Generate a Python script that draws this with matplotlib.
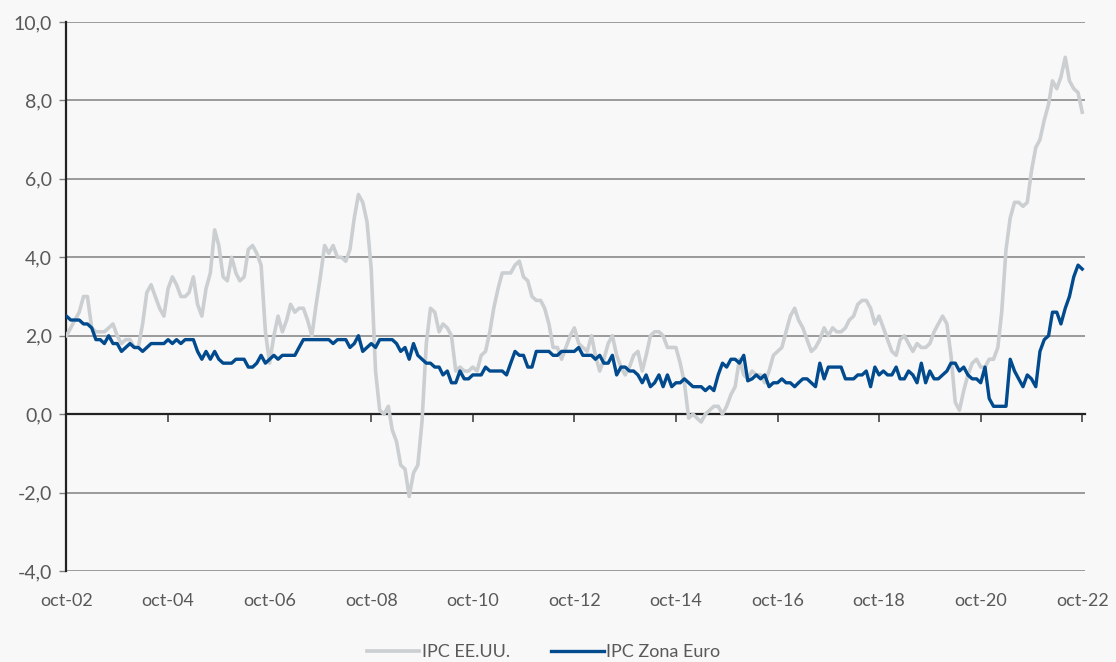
import numpy as np
import pandas as pd
import matplotlib
matplotlib.use("Agg")
import matplotlib.pyplot as plt
from matplotlib.ticker import FuncFormatter, MultipleLocator

plt.rcParams['font.family'] = ['Lato', 'DejaVu Sans']

# monthly values, oct-02 .. oct-22
dates = pd.date_range('2002-10-01', '2022-10-01', freq='MS')

ipc_usa = [
    2.0, 2.2, 2.4,
    2.6, 3.0, 3.0, 2.2, 2.1, 2.1, 2.1, 2.2, 2.3, 2.0, 1.8, 1.9,
    1.9, 1.7, 1.7, 2.3, 3.1, 3.3, 3.0, 2.7, 2.5, 3.2, 3.5, 3.3,
    3.0, 3.0, 3.1, 3.5, 2.8, 2.5, 3.2, 3.6, 4.7, 4.3, 3.5, 3.4,
    4.0, 3.6, 3.4, 3.5, 4.2, 4.3, 4.1, 3.8, 2.1, 1.3, 2.0, 2.5,
    2.1, 2.4, 2.8, 2.6, 2.7, 2.7, 2.4, 2.0, 2.8, 3.5, 4.3, 4.1,
    4.3, 4.0, 4.0, 3.9, 4.2, 5.0, 5.6, 5.4, 4.9, 3.7, 1.1, 0.1,
    0.0, 0.2, -0.4, -0.7, -1.3, -1.4, -2.1, -1.5, -1.3, -0.2, 1.8, 2.7,
    2.6, 2.1, 2.3, 2.2, 2.0, 1.1, 1.2, 1.1, 1.1, 1.2, 1.1, 1.5,
    1.6, 2.1, 2.7, 3.2, 3.6, 3.6, 3.6, 3.8, 3.9, 3.5, 3.4, 3.0,
    2.9, 2.9, 2.7, 2.3, 1.7, 1.7, 1.4, 1.7, 2.0, 2.2, 1.8, 1.7,
    1.6, 2.0, 1.5, 1.1, 1.4, 1.8, 2.0, 1.5, 1.2, 1.0, 1.2, 1.5,
    1.6, 1.1, 1.5, 2.0, 2.1, 2.1, 2.0, 1.7, 1.7, 1.7, 1.3, 0.8,
    -0.1, 0.0, -0.1, -0.2, 0.0, 0.1, 0.2, 0.2, 0.0, 0.2, 0.5, 0.7,
    1.4, 1.0, 0.9, 1.1, 1.0, 1.0, 0.8, 1.1, 1.5, 1.6, 1.7, 2.1,
    2.5, 2.7, 2.4, 2.2, 1.9, 1.6, 1.7, 1.9, 2.2, 2.0, 2.2, 2.1,
    2.1, 2.2, 2.4, 2.5, 2.8, 2.9, 2.9, 2.7, 2.3, 2.5, 2.2, 1.9,
    1.6, 1.5, 1.9, 2.0, 1.8, 1.6, 1.8, 1.7, 1.7, 1.8, 2.1, 2.3,
    2.5, 2.3, 1.5, 0.3, 0.1, 0.6, 1.0, 1.3, 1.4, 1.2, 1.2, 1.4,
    1.4, 1.7, 2.6, 4.2, 5.0, 5.4, 5.4, 5.3, 5.4, 6.2, 6.8, 7.0,
    7.5, 7.9, 8.5, 8.3, 8.6, 9.1, 8.5, 8.3, 8.2, 7.7,
]

ipc_euro = [
    2.5, 2.4, 2.4, 2.4, 2.3, 2.3, 2.2, 1.9, 1.9, 1.8, 2.0, 1.8,
    1.8, 1.6, 1.7, 1.8, 1.7, 1.7, 1.6, 1.7, 1.8, 1.8, 1.8, 1.8,
    1.9, 1.8, 1.9, 1.8, 1.9, 1.9, 1.9, 1.6, 1.4, 1.6, 1.4, 1.6,
    1.4, 1.3, 1.3, 1.3, 1.4, 1.4, 1.4, 1.2, 1.2, 1.3, 1.5, 1.3,
    1.4, 1.5, 1.4, 1.5, 1.5, 1.5, 1.5, 1.7, 1.9, 1.9, 1.9, 1.9,
    1.9, 1.9, 1.9, 1.8, 1.9, 1.9, 1.9, 1.7, 1.8, 2.0, 1.6, 1.7,
    1.8, 1.7, 1.9, 1.9, 1.9, 1.9, 1.8, 1.6, 1.7, 1.4, 1.8, 1.5,
    1.4, 1.3, 1.3, 1.2, 1.2, 1.0, 1.1, 0.8, 0.8, 1.1, 0.9, 0.9,
    1.0, 1.0, 1.0, 1.2, 1.1, 1.1, 1.1, 1.1, 1.0, 1.3, 1.6, 1.5,
    1.5, 1.2, 1.2, 1.6, 1.6, 1.6, 1.6, 1.5, 1.5, 1.6, 1.6, 1.6,
    1.6, 1.7, 1.5, 1.5, 1.5, 1.4, 1.5, 1.3, 1.3, 1.5, 1.0, 1.2,
    1.2, 1.1, 1.1, 1.0, 0.8, 1.0, 0.7, 0.8, 1.0, 0.7, 1.0, 0.7,
    0.8, 0.8, 0.9, 0.8, 0.7, 0.7, 0.7, 0.6, 0.7, 0.6, 1.0, 1.3,
    1.2, 1.4, 1.4, 1.3, 1.5, 0.85, 0.9, 1.0, 0.9, 1.0, 0.7, 0.8,
    0.8, 0.9, 0.8, 0.8, 0.7, 0.8, 0.9, 0.9, 0.8, 0.7, 1.3, 0.9,
    1.2, 1.2, 1.2, 1.2, 0.9, 0.9, 0.9, 1.0, 1.0, 1.1, 0.7, 1.2,
    1.0, 1.1, 1.0, 1.0, 1.2, 0.9, 0.9, 1.1, 1.0, 0.8, 1.3, 0.8,
    1.1, 0.9, 0.9, 1.0, 1.1, 1.3, 1.3, 1.1, 1.2, 1.0, 0.9, 0.9,
    0.8, 1.2, 0.4, 0.2, 0.2, 0.2, 0.2, 1.4, 1.1, 0.9, 0.7, 1.0,
    0.9, 0.7, 1.6, 1.9, 2.0, 2.6, 2.6, 2.3, 2.7, 3.0, 3.5, 3.8,
    3.7,
]

tick_dates = pd.date_range('2002-10-01', '2022-10-01', freq='24MS')

TEXT = '#595959'
BG = '#f8f8f8'

fig = plt.figure(figsize=(11.16, 6.62), dpi=100, facecolor=BG)
ax = fig.add_axes([66 / 1116, 91 / 662, 1019 / 1116, 549 / 662], facecolor=BG)

ax.plot(dates, ipc_usa, color='#cbcfd1', lw=2.6, label='IPC EE.UU.', zorder=3)
ax.plot(dates, ipc_euro, color='#004a8d', lw=2.4, label='IPC Zona Euro', zorder=4)

ax.set_ylim(-4, 10)
ax.set_xlim(dates[0] - pd.Timedelta(days=3), dates[-1] + pd.Timedelta(days=20))
ax.yaxis.set_major_locator(MultipleLocator(2))
ax.yaxis.set_major_formatter(FuncFormatter(lambda v, p: f'{v:.1f}'.replace('.', ',')))
ax.grid(axis='y', color='#808080', lw=1.1, zorder=1)
ax.set_axisbelow(True)

for s in ['top', 'right']:
    ax.spines[s].set_visible(False)
ax.spines['left'].set_color('#222222')
ax.spines['left'].set_linewidth(1.6)
ax.spines['bottom'].set_position(('data', 0))
ax.spines['bottom'].set_color('#222222')
ax.spines['bottom'].set_linewidth(1.6)

ax.set_xticks(tick_dates)
ax.tick_params(axis='x', direction='out', length=6, width=1.2, color='#444444', labelbottom=False)
ax.tick_params(axis='y', length=5, width=1, color='#808080', labelsize=14, labelcolor=TEXT, pad=5)

# labels sit below the plot, not at the zero line
sec = ax.secondary_xaxis('bottom')
sec.set_xticks(tick_dates)
sec.set_xticklabels(['oct-' + d.strftime('%y') for d in tick_dates])
sec.tick_params(length=0, labelsize=13, labelcolor=TEXT, pad=16)
sec.spines['bottom'].set_visible(False)

fig.legend(loc='lower center', bbox_to_anchor=(0.487, -0.022), ncol=2, frameon=False,
           fontsize=13, labelcolor=TEXT, handlelength=2.9, handletextpad=0.15,
           columnspacing=2.3)

fig.savefig('out.png', dpi=100, facecolor=BG)
